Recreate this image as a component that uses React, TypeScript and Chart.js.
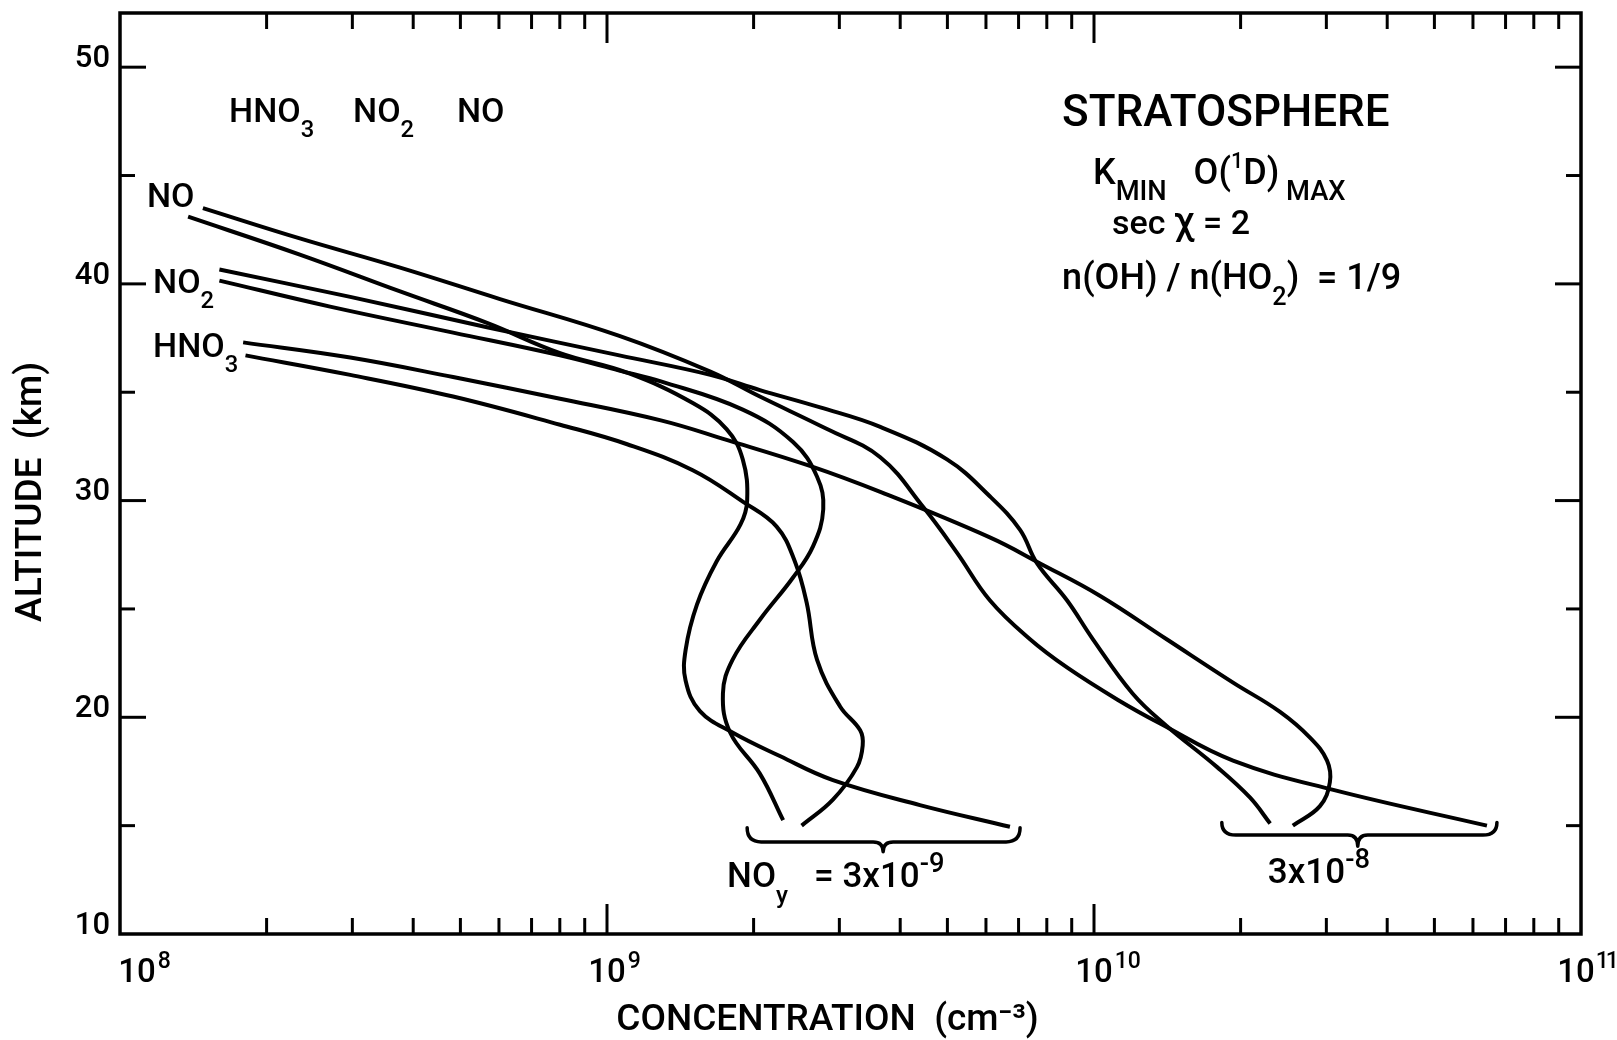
import React, { useEffect, useRef } from 'react';
import { Chart, registerables } from 'chart.js';

Chart.register(...registerables);

type Pt = [number, number]; // [concentration cm^-3, altitude km]

// ---- NOy = 3x10^-8 group ----
const NO_HIGH: Pt[] = [
  [1.48e8, 43.5], [2.34e8, 42.1], [3.76e8, 40.75], [6.03e8, 39.3], [1.06e9, 37.6],
  [1.63e9, 35.95], [2.06e9, 34.8], [2.83e9, 33.3], [3.64e9, 32.0], [4.46e9, 29.7],
  [5.23e9, 27.6], [6.11e9, 25.4], [7.39e9, 23.6], [8.8e9, 22.3], [1.12e10, 20.8],
  [1.37e10, 19.7], [1.93e10, 18.0], [3.1e10, 16.65], [6.41e10, 15.0],
];
const NO2_HIGH: Pt[] = [
  [1.6e8, 40.66], [2.97e8, 39.4], [5.67e8, 38.0], [1.06e9, 36.7], [1.63e9, 35.8],
  [2.06e9, 35.1], [2.74e9, 34.3], [3.64e9, 33.4], [4.99e9, 31.9], [6.11e9, 30.2],
  [7.05e9, 28.65], [7.64e9, 27.1], [8.8e9, 25.4], [9.95e9, 23.6], [1.2e10, 21.1],
  [1.41e10, 19.6], [1.79e10, 17.7], [2.09e10, 16.3], [2.3e10, 15.1],
];
const HNO3_HIGH: Pt[] = [
  [1.79e8, 37.3], [2.97e8, 36.6], [4.83e8, 35.7], [8.01e8, 34.7], [1.29e9, 33.7],
  [1.76e9, 32.8], [2.61e9, 31.6], [3.64e9, 30.4], [6.11e9, 28.3], [7.75e9, 27.1],
  [1.03e10, 25.6], [1.41e10, 23.6], [1.93e10, 21.6], [2.41e10, 20.25], [2.78e10, 19.05],
  [3.01e10, 18.0], [3.05e10, 17.0], [2.91e10, 15.9], [2.56e10, 15.0],
];

// ---- NOy = 3x10^-9 group ----
const NO_LOW: Pt[] = [
  [1.38e8, 43.1], [2.34e8, 41.35], [3.76e8, 39.65], [5.67e8, 38.2], [8.01e8, 36.8],
  [1.1e9, 35.9], [1.5e9, 34.5], [1.76e9, 33.3], [1.9e9, 31.9], [1.94e9, 30.0],
  [1.88e9, 28.9], [1.68e9, 27.2], [1.53e9, 25.2], [1.45e9, 23.1], [1.45e9, 21.7],
  [1.55e9, 20.3], [1.81e9, 19.3], [2.27e9, 18.2], [2.91e9, 17.1], [4.39e9, 15.95],
  [6.72e9, 14.95],
];
const NO2_LOW: Pt[] = [
  [1.6e8, 40.15], [2.7e8, 38.95], [4.83e8, 37.75], [8.01e8, 36.7], [1.06e9, 36.0],
  [1.29e9, 35.5], [1.9e9, 34.2], [2.41e9, 32.7], [2.7e9, 31.1], [2.78e9, 29.6],
  [2.65e9, 27.9], [2.41e9, 26.45], [2.06e9, 24.5], [1.81e9, 22.65], [1.73e9, 21.1],
  [1.79e9, 19.3], [2.06e9, 17.4], [2.3e9, 15.25],
];
const HNO3_LOW: Pt[] = [
  [1.81e8, 36.7], [2.97e8, 35.8], [4.83e8, 34.8], [8.01e8, 33.5], [1.1e9, 32.6],
  [1.5e9, 31.4], [1.9e9, 29.95], [2.23e9, 28.8], [2.43e9, 27.2], [2.57e9, 25.3],
  [2.7e9, 22.65], [3.01e9, 20.5], [3.31e9, 19.4], [3.35e9, 18.7], [3.26e9, 17.7],
  [2.91e9, 16.2], [2.51e9, 15.0],
];

const SERIES: { label: string; data: Pt[] }[] = [
  { label: 'NO (NOy = 3x10^-8)', data: NO_HIGH },
  { label: 'NO2 (NOy = 3x10^-8)', data: NO2_HIGH },
  { label: 'HNO3 (NOy = 3x10^-8)', data: HNO3_HIGH },
  { label: 'NO (NOy = 3x10^-9)', data: NO_LOW },
  { label: 'NO2 (NOy = 3x10^-9)', data: NO2_LOW },
  { label: 'HNO3 (NOy = 3x10^-9)', data: HNO3_LOW },
];

// ---- axes ----
const X_MIN = 1e8;
const X_MAX = 1e11;
const Y_MIN = 10;
const Y_MAX = 52.5;
const X_LABEL_EXPONENTS = [8, 9, 10, 11];
const X_MINOR_DECADES = [8, 9, 10];
const X_MINOR_MULTIPLIERS = [2, 3, 4, 5, 6, 7, 8, 9];
const X_MAJOR_MARKS = [1e9, 1e10];
const Y_TICK_LABELS = [10, 20, 30, 40, 50];
const Y_MARKS = [15, 20, 25, 30, 35, 40, 45, 50];
const NBSP4 = '\u00A0\u00A0\u00A0\u00A0';
const X_TITLE = 'CONCENTRATION  (cm\u207B\u00B3)' + NBSP4 + '\u00A0';
const Y_TITLE = 'ALTITUDE  (km)' + NBSP4;

// ---- annotations (anchored in data coordinates) ----
type Part = { t: string; s?: 'sub' | 'sup'; k?: number };
const TEXTS: { x: number; y: number; size: number; parts: Part[] }[] = [
  { x: 1.675e8, y: 47.49, size: 34, parts: [{ t: 'HNO' }, { t: '3', s: 'sub' }] },
  { x: 3.01e8, y: 47.49, size: 34, parts: [{ t: 'NO' }, { t: '2', s: 'sub' }] },
  { x: 4.92e8, y: 47.49, size: 34, parts: [{ t: 'NO' }] },
  { x: 1.136e8, y: 43.56, size: 34, parts: [{ t: 'NO' }] },
  { x: 1.169e8, y: 39.59, size: 34, parts: [{ t: 'NO' }, { t: '2', s: 'sub' }] },
  { x: 1.169e8, y: 36.64, size: 34, parts: [{ t: 'HNO' }, { t: '3', s: 'sub' }] },
  { x: 8.6e9, y: 47.3, size: 44, parts: [{ t: 'STRATOSPHERE' }] },
  {
    x: 9.95e9, y: 44.63, size: 36,
    parts: [
      { t: 'K' }, { t: 'MIN', s: 'sub', k: 0.76 }, { t: '   O(' }, { t: '1', s: 'sup', k: 0.6 },
      { t: 'D)' }, { t: ' MAX', s: 'sub', k: 0.76 },
    ],
  },
  { x: 1.089e10, y: 42.32, size: 34, parts: [{ t: 'sec ' }, { t: '\u03C7', k: 1.12 }, { t: ' = 2' }] },
  {
    x: 8.6e9, y: 39.78, size: 36,
    parts: [{ t: 'n(OH) / n(HO' }, { t: '2', s: 'sub' }, { t: ')  = 1/9' }],
  },
  {
    x: 1.764e9, y: 12.17, size: 35,
    parts: [{ t: 'NO' }, { t: 'y', s: 'sub' }, { t: '   = 3x10' }, { t: '-9', s: 'sup', k: 0.78 }],
  },
  { x: 2.275e10, y: 12.35, size: 35, parts: [{ t: '3x10' }, { t: '-8', s: 'sup', k: 0.78 }] },
];

const BRACES = [
  { from: 1.94e9, to: 7.05e9, mid: 3.69e9, tip: 14.9, line: 14.25, point: 13.8 },
  { from: 1.83e10, to: 6.72e10, mid: 3.48e10, tip: 15.15, line: 14.57, point: 14.05 },
];

const FONT = 'Roboto, "Liberation Sans", sans-serif';

function drawRich(ctx: CanvasRenderingContext2D, x: number, y: number, parts: Part[], size: number) {
  let cx = x;
  ctx.textAlign = 'left';
  ctx.textBaseline = 'alphabetic';
  for (const p of parts) {
    const fs = size * (p.k ?? (p.s ? 0.7 : 1));
    ctx.font = `500 ${fs}px ${FONT}`;
    const dy = p.s === 'sub' ? size * 0.45 : p.s === 'sup' ? -size * 0.42 : 0;
    ctx.fillText(p.t, cx, y + dy);
    cx += ctx.measureText(p.t).width;
  }
}

const decorPlugin = {
  id: 'decor',
  afterDraw(chart: any) {
    const { ctx, chartArea: a, scales } = chart;
    const xs = scales.x;
    const ys = scales.y;
    ctx.save();
    ctx.strokeStyle = '#000';
    ctx.fillStyle = '#000';
    const seg = (x1: number, y1: number, x2: number, y2: number) => {
      ctx.beginPath();
      ctx.moveTo(x1, y1);
      ctx.lineTo(x2, y2);
      ctx.stroke();
    };
    // frame
    ctx.lineWidth = 3.5;
    ctx.strokeRect(a.left, a.top, a.right - a.left, a.bottom - a.top);
    // inward tick marks
    ctx.lineWidth = 3;
    for (const v of Y_MARKS) {
      const p = ys.getPixelForValue(v);
      const len = v % 10 === 0 ? 26 : 15;
      seg(a.left, p, a.left + len, p);
      seg(a.right, p, a.right - len, p);
    }
    for (const e of X_MINOR_DECADES) {
      for (const m of X_MINOR_MULTIPLIERS) {
        const p = xs.getPixelForValue(m * Math.pow(10, e));
        seg(p, a.bottom, p, a.bottom - 16);
        seg(p, a.top, p, a.top + 16);
      }
    }
    for (const v of X_MAJOR_MARKS) {
      const p = xs.getPixelForValue(v);
      seg(p, a.bottom, p, a.bottom - 30);
      seg(p, a.top, p, a.top + 30);
    }
    // x tick labels 10^n
    const first = X_LABEL_EXPONENTS[0];
    const last = X_LABEL_EXPONENTS[X_LABEL_EXPONENTS.length - 1];
    for (const e of X_LABEL_EXPONENTS) {
      const shift = e === first ? 17 : e === last ? -5 : 0;
      const p = xs.getPixelForValue(Math.pow(10, e)) + shift;
      ctx.font = `500 33px ${FONT}`;
      ctx.textAlign = 'center';
      ctx.textBaseline = 'alphabetic';
      const w = ctx.measureText('10').width;
      ctx.fillText('10', p, a.bottom + 48);
      ctx.font = `500 23px ${FONT}`;
      ctx.textAlign = 'left';
      (ctx as any).letterSpacing = e === last ? '-3px' : '0px';
      ctx.fillText(String(e), p + w / 2 + (e === last ? 1 : 2), a.bottom + 34);
      (ctx as any).letterSpacing = '0px';
    }
    // braces
    ctx.lineWidth = 3.5;
    ctx.lineCap = 'round';
    ctx.lineJoin = 'round';
    for (const b of BRACES) {
      const x0 = xs.getPixelForValue(b.from);
      const x1 = xs.getPixelForValue(b.to);
      const xc = xs.getPixelForValue(b.mid);
      const yt = ys.getPixelForValue(b.tip);
      const yl = ys.getPixelForValue(b.line);
      const yp = ys.getPixelForValue(b.point);
      const r = 14;
      const rc = 10;
      ctx.beginPath();
      ctx.moveTo(x0, yt);
      ctx.quadraticCurveTo(x0, yl, x0 + r, yl);
      ctx.lineTo(xc - rc, yl);
      ctx.quadraticCurveTo(xc, yl, xc, yp);
      ctx.quadraticCurveTo(xc, yl, xc + rc, yl);
      ctx.lineTo(x1 - r, yl);
      ctx.quadraticCurveTo(x1, yl, x1, yt);
      ctx.stroke();
    }
    // text annotations
    for (const t of TEXTS) {
      drawRich(ctx, xs.getPixelForValue(t.x), ys.getPixelForValue(t.y), t.parts, t.size);
    }
    ctx.restore();
  },
};

export default function App() {
  const ref = useRef<HTMLCanvasElement>(null);
  useEffect(() => {
    const canvas = ref.current;
    if (!canvas) return;
    const chart = new Chart(canvas, {
      type: 'scatter',
      data: {
        datasets: SERIES.map((s) => ({
          label: s.label,
          data: s.data.map(([x, y]) => ({ x, y })),
          showLine: true,
          borderColor: '#000',
          backgroundColor: '#000',
          borderWidth: 4,
          pointRadius: 0,
          tension: 0.4,
          fill: false,
        })),
      },
      options: {
        responsive: false,
        maintainAspectRatio: false,
        animation: false,
        devicePixelRatio: 1,
        events: [],
        layout: { padding: { left: 0, right: 36, top: 13, bottom: 0 } },
        plugins: { legend: { display: false }, tooltip: { enabled: false } },
        scales: {
          x: {
            type: 'logarithmic',
            min: X_MIN,
            max: X_MAX,
            grid: { display: false, drawTicks: false },
            border: { display: false },
            ticks: { display: false },
            title: {
              display: true,
              text: X_TITLE,
              color: '#000',
              font: { family: FONT, size: 37, weight: '500', lineHeight: 1 },
              padding: { top: 0, bottom: 1 },
            },
            afterFit: (s: any) => {
              s.height = 106;
              s.paddingLeft = 0;
              s.paddingRight = 0;
            },
          },
          y: {
            type: 'linear',
            min: Y_MIN,
            max: Y_MAX,
            grid: { display: false, drawTicks: false },
            border: { display: false },
            ticks: {
              stepSize: 10,
              includeBounds: false,
              autoSkip: false,
              padding: 10,
              labelOffset: -8,
              color: '#000',
              font: { family: FONT, size: 31, weight: '500' },
              callback: (v: any) => (Y_TICK_LABELS.includes(Number(v)) ? String(v) : ''),
            },
            title: {
              display: true,
              text: Y_TITLE,
              color: '#000',
              font: { family: FONT, size: 37, weight: '500', lineHeight: 1 },
              padding: { top: 13, bottom: 0 },
            },
            afterFit: (s: any) => {
              s.width = 120;
              s.paddingTop = 0;
              s.paddingBottom = 0;
            },
          },
        },
      } as any,
      plugins: [decorPlugin],
    });
    return () => chart.destroy();
  }, []);
  return (
    <div style={{ position: 'absolute', left: 0, top: 0, width: 1617, height: 1040, background: '#fff' }}>
      <canvas ref={ref} width={1617} height={1040} style={{ display: 'block' }} />
    </div>
  );
}
